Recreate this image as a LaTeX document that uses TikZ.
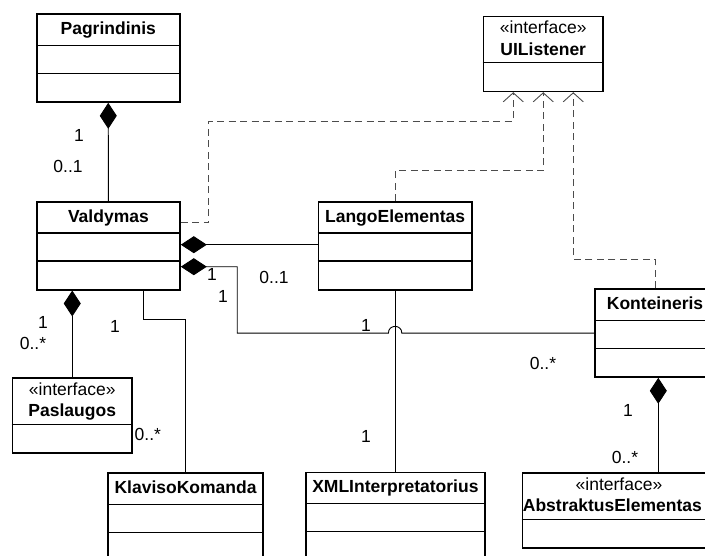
\documentclass[tikz,border=0pt]{standalone}
\usepackage{fontspec}
\setmainfont{Liberation Sans}
\usetikzlibrary{calc,arrows.meta}

\newcommand\diafont{\fontsize{17.5pt}{21pt}\selectfont}

\tikzset{
  classbox/.style={draw, line width=1.5pt, inner sep=0pt, anchor=north west},
  divider/.style={line width=1.5pt},
  cname/.style={font=\diafont\bfseries, anchor=base, inner sep=0pt},
  stereo/.style={font=\diafont, anchor=base, inner sep=0pt},
  mult/.style={font=\diafont, inner sep=0pt},
  assoc/.style={line width=0.9pt},
  comp/.style={assoc, {Diamond[length=26pt,width=17pt]}-},
  dep/.style={line width=0.9pt, draw=black!70, dash pattern=on 7pt off 4.5pt,
    -{Straight Barb[length=9pt,width=20pt]}},
}

% class with name, attribute and operation compartments
\newcommand\umlclass[4]{%
  \node[classbox, minimum width=#3pt, minimum height=88pt] (#1) at (#2) {};
  \node[cname] (#1-title) at ($(#1.north)+(0,21)$) {#4};
  \draw[divider] ($(#1.north west)+(0,32)$) -- ($(#1.north east)+(0,32)$);
  \draw[divider] ($(#1.north west)+(0,60)$) -- ($(#1.north east)+(0,60)$);
}
% interface with stereotype and one compartment
\newcommand\umliface[4]{%
  \node[classbox, minimum width=#3pt, minimum height=75pt] (#1) at (#2) {};
  \node[stereo] (#1-st) at ($(#1.north)+(0,18)$) {«interface»};
  \node[cname] (#1-title) at ($(#1.north)+(0,39.5)$) {#4};
  \draw[divider] ($(#1.north west)+(0,47)$) -- ($(#1.north east)+(0,47)$);
}

\begin{document}
\begin{tikzpicture}[x=1pt, y=-1pt]
\useasboundingbox (0,0) rectangle (705,555);
\fill[white] (0,0) rectangle (705,555);
\clip (0,0) rectangle (705,555);

% classes
\umlclass{pag}{36,13.3}{143}{Pagrindinis}
\umliface{uil}{482.7,15.7}{119.6}{UIListener}
\umlclass{val}{36,201}{143.3}{Valdymas}
\umlclass{lango}{317.7,201}{153.3}{LangoElementas}
\umlclass{kont}{594.3,288.3}{120}{Konteineris}
\umliface{pas}{11.7,377.3}{119.6}{Paslaugos}
\umlclass{klav}{107.3,472.3}{155}{KlavisoKomanda}
\umlclass{xml}{305,471.7}{179.3}{XMLInterpretatorius}

% abstract element interface (name starts at the left border)
\node[classbox, minimum width=194pt, minimum height=75pt] (abs) at (521.7,472.3) {};
\node[stereo] (abs-st) at ($(abs.north)+(-0.5,18)$) {«interface»};
\node[cname, anchor=base west] (abs-title) at ($(abs.north west)+(1,39.5)$) {AbstraktusElementas};
\draw[divider] ($(abs.north west)+(0,47)$) -- ($(abs.north east)+(0,47)$);

% compositions and associations
\draw[comp] (pag.south) -- (val.north);

\coordinate (v1) at ($(val.north east)+(0,43.7)$);
\draw[comp] (v1) -- (v1 -| lango.west);

\coordinate (v2) at ($(val.north east)+(0,65.7)$);
\coordinate (bend) at ($(v2)+(56.4,0)$);
\coordinate (hop) at (lango.south |- kont.west);
\draw[comp] (v2) -- (bend) |- ($(hop)+(-6.7,0)$)
  .. controls ($(hop)+(-6.7,-8.9)$) and ($(hop)+(6.7,-8.9)$) .. ($(hop)+(6.7,0)$)
  -- (kont.west);

\coordinate (v3) at (val.south -| pas.north);
\draw[comp] (v3) -- (pas.north);

\coordinate (v4) at ($(val.south west)+(107.7,0)$);
\draw[assoc] (v4) -- ++(0,29.3) -| (klav.north);

\draw[assoc] (lango.south) -- (lango.south |- xml.north);

\coordinate (k1) at ($(kont.south west)+(64,0)$);
\draw[comp] (k1) -- (k1 |- abs.north);

% realisations of UIListener
\coordinate (vd) at ($(val.north east)+(0,21.7)$);
\coordinate (vdbend) at (208.7,121);
\draw[dep] (vd) -| (vdbend) -| ($(uil.south)+(-30,0)$);
\draw[dep] (lango.north) -- ++(0,-30.3) -| (uil.south);
\draw[dep] (kont.north) -- ++(0,-29.3) -| ($(uil.south)+(30,0)$);

% multiplicities
\node[mult] (m1) at (79,135) {1};
\node[mult] (m2) at (68,166) {0..1};
\node[mult] (m3) at (212,274) {1};
\node[mult] (m4) at (274,277) {0..1};
\node[mult] (m5) at (223,296) {1};
\node[mult] (m6) at (43,322) {1};
\node[mult] (m7) at (33,343) {0..*};
\node[mult] (m8) at (115,326) {1};
\node[mult, anchor=west] (m9) at (134.5,434) {0..*};
\node[mult] (m10) at (366,325) {1};
\node[mult] (m11) at (543,363) {0..*};
\node[mult] (m12) at (366,436) {1};
\node[mult] (m13) at (628,410) {1};
\node[mult] (m14) at (625,457) {0..*};
\end{tikzpicture}
\end{document}
